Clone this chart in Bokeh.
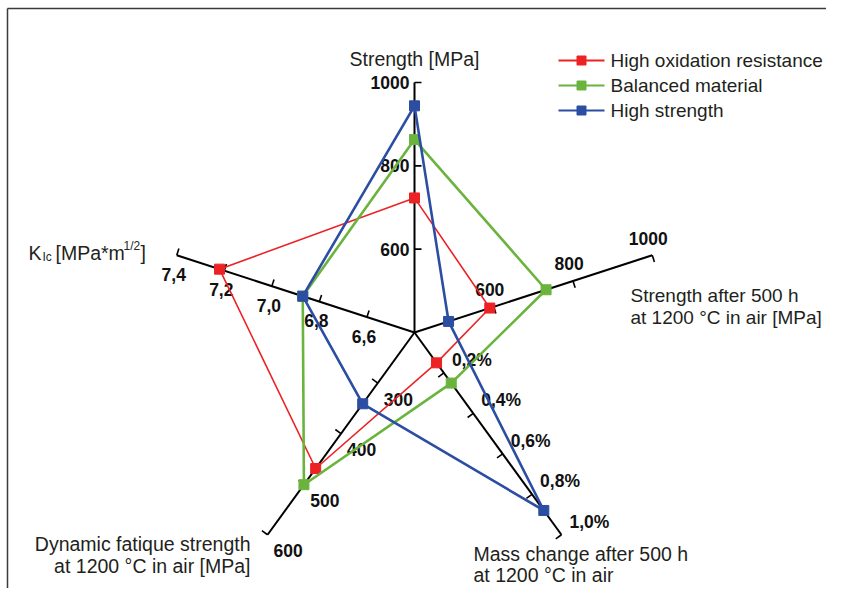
import math
from bokeh.plotting import figure
from bokeh.models import Range1d
from bokeh.core.properties import value
from bokeh.embed import file_html
from bokeh.resources import INLINE

# ---------------- data ----------------
axis_min = [400, 400, 0.0, 200, 6.4]
axis_max = [1000, 1000, 1.0, 600, 7.4]
axis_angle = [90, 18, -54, -126, 162]

ticks_strength = [600, 800, 1000]
ticks_strength_500h = [600, 800, 1000]
ticks_mass = [0.2, 0.4, 0.6, 0.8, 1.0]
ticks_fatigue = [300, 400, 500, 600]
ticks_kic = [6.6, 6.8, 7.0, 7.2, 7.4]

labels_strength = ["600", "800", "1000"]
labels_strength_500h = ["600", "800", "1000"]
labels_mass = ["0,2%", "0,4%", "0,6%", "0,8%", "1,0%"]
labels_fatigue = ["300", "400", "500", "600"]
labels_kic = ["6,6", "6,8", "7,0", "7,2", "7,4"]

series_names = ["High oxidation resistance", "Balanced material", "High strength"]
high_oxidation = [723, 590, 0.15, 469, 7.22]
balanced = [863, 732, 0.25, 501, 6.87]
high_strength = [944, 486, 0.88, 341, 6.87]

# ---------------- layout / style ----------------
W, H = 826, 588
CX, CY = 414, 332
R = 250
FONT = value("Liberation Sans")
colors = ["#ec2224", "#6ab43e", "#2b4ea2"]
widths = [1.6, 2.6, 2.6]

all_ticks = [ticks_strength, ticks_strength_500h, ticks_mass, ticks_fatigue, ticks_kic]
all_labels = [labels_strength, labels_strength_500h, labels_mass, labels_fatigue, labels_kic]
# (dx, dy, align) for tick labels on each axis
label_off = [(-5, 0, "right"), (-4, -17, "center"), (8, -13, "left"), (6, 16, "left"), (-3, 19, "center")]


def pos(i, v):
    t = (v - axis_min[i]) / (axis_max[i] - axis_min[i])
    a = math.radians(axis_angle[i])
    return CX + R * t * math.cos(a), CY - R * t * math.sin(a)


p = figure(width=W, height=H, x_range=Range1d(0, W), y_range=Range1d(H, 0),
           output_backend="svg", toolbar_location=None, min_border=0)
p.axis.visible = False
p.grid.visible = False
p.outline_line_color = None
p.background_fill_color = "white"
p.border_fill_color = "white"

# frame lines (left and top)
p.segment(x0=[7, 7], y0=[8, 8], x1=[7, W], y1=[H, 8], line_color="#3a3a3a", line_width=1.5)

# axes
ex, ey = zip(*[pos(i, axis_max[i]) for i in range(5)])
p.segment(x0=[CX] * 5, y0=[CY] * 5, x1=list(ex), y1=list(ey), line_color="black", line_width=2)

# ticks and tick labels
tx0, ty0, tx1, ty1 = [], [], [], []
for i in range(5):
    a = math.radians(axis_angle[i])
    px, py = math.sin(a), math.cos(a)
    dx, dy, align = label_off[i]
    lx, ly, lt = [], [], []
    for v, lab in zip(all_ticks[i], all_labels[i]):
        x, y = pos(i, v)
        tx0.append(x); ty0.append(y)
        tx1.append(x + 7 * px); ty1.append(y + 7 * py)
        lx.append(x + dx); ly.append(y + dy); lt.append(lab)
    p.text(x=lx, y=ly, text=lt, text_font=FONT, text_font_size="17.5px", text_font_style="bold",
           text_align=align, text_baseline="middle", text_color="#111111")
p.segment(x0=tx0, y0=ty0, x1=tx1, y1=ty1, line_color="black", line_width=1.6)

# axis titles
TC = "#231f20"
TS = "19.5px"
p.text(x=[414], y=[58], text=["Strength [MPa]"], text_font=FONT, text_font_size=TS,
       text_align="center", text_baseline="middle", text_color=TC)
p.text(x=[630, 630], y=[295, 317], text=["Strength after 500 h", "at 1200 °C in air [MPa]"],
       text_font=FONT, text_font_size="19px", text_align="left", text_baseline="middle", text_color=TC)
p.text(x=[473, 473], y=[553, 574], text=["Mass change after 500 h", "at 1200 °C in air"],
       text_font=FONT, text_font_size=TS, text_align="left", text_baseline="middle", text_color=TC)
p.text(x=[250, 250], y=[543, 565], text=["Dynamic fatique strength", "at 1200 °C in air [MPa]"],
       text_font=FONT, text_font_size=TS, text_align="right", text_baseline="middle", text_color=TC)
p.text(x=[28, 55, 140], y=[252, 252, 252], text=["K", "[MPa*m", "]"], text_font=FONT,
       text_font_size=TS, text_align="left", text_baseline="middle", text_color=TC)
p.text(x=[42], y=[256], text=["Ic"], text_font=FONT, text_font_size="12px",
       text_align="left", text_baseline="middle", text_color=TC)
p.text(x=[123], y=[245], text=["1/2"], text_font=FONT, text_font_size="12px",
       text_align="left", text_baseline="middle", text_color=TC)

# series
for k, vals in enumerate([high_oxidation, balanced, high_strength]):
    xs, ys = zip(*[pos(i, vals[i]) for i in range(5)])
    xs, ys = list(xs), list(ys)
    p.line(xs + xs[:1], ys + ys[:1], line_color=colors[k], line_width=widths[k])
    p.scatter(xs, ys, marker="square", size=10, fill_color=colors[k], line_color=colors[k])

# legend
LX0, LX1, LT = 558, 604, 610
for k, name in enumerate(series_names):
    yy = 60 + 25 * k
    p.line([LX0, LX1], [yy, yy], line_color=colors[k], line_width=2)
    p.scatter([(LX0 + LX1) / 2], [yy], marker="square", size=9, fill_color=colors[k], line_color=colors[k])
    p.text(x=[LT], y=[yy], text=[name], text_font=FONT, text_font_size="19px",
           text_align="left", text_baseline="middle", text_color=TC)

open("out.html", "w").write(file_html(p, INLINE))
